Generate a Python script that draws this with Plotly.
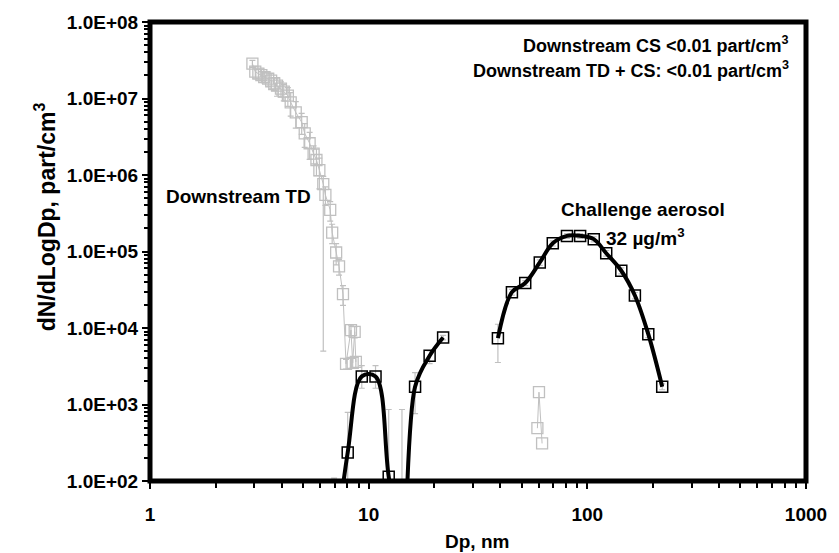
import plotly.graph_objects as go

# ---- data ----
# Downstream TD (grey)
td_x = [2.94, 3.03, 3.13, 3.23, 3.33, 3.47, 3.58, 3.70, 3.81, 3.97, 4.09, 4.27, 4.40, 4.64,
        4.94, 5.10, 5.37, 5.60, 5.77, 5.95, 6.20, 6.34, 6.67, 6.81, 7.10, 7.32, 7.63, 7.88,
        8.30, 8.45, 8.63, 8.74]
td_y = [2.85e7, 2.24e7, 2.11e7, 2.02e7, 1.9e7, 1.82e7, 1.71e7, 1.57e7, 1.47e7, 1.35e7, 1.23e7,
        1.09e7, 8.9e6, 6.6e6, 4.9e6, 3.5e6, 2.6e6, 1.9e6, 1.57e6, 1.16e6, 7.6e5, 5.5e5, 3.5e5,
        1.77e5, 9.7e4, 6.4e4, 2.77e4, 3.4e3, 9.4e3, 3.5e3, 8.9e3, 3.6e3]
td_err_plus = [3e6, 4e6, 3e6, 4e6, 3e6, 4e6, 4e6, 3e6, 4e6, 3e6, 3e6, 3e6, 3e6, 2.5e6, 1.5e6,
               1.2e6, 1.0e6, 5e5, 6e5, 5e5, 2e5, 1.5e5, 1e5, 5e4, 3e4, 1.5e4, 8e3, 500, 1500,
               500, 1500, 600]
td_err_minus = [3e6, 4e6, 3e6, 4e6, 3e6, 4e6, 4e6, 3e6, 4e6, 3e6, 3e6, 3e6, 3e6, 2.5e6, 1.5e6,
                1.2e6, 1.0e6, 5e5, 6e5, 5e5, 7.55e5, 1.5e5, 1e5, 5e4, 3e4, 1.5e4, 8e3, 500,
                1500, 500, 1500, 600]
td2_x = [59.1, 60.1, 62.1]
td2_y = [490, 1450, 310]

# Downstream CS (black, low)
cs_x = [6.95, 8.02, 9.3, 10.75, 12.35, 14.2, 16.3, 19.0, 21.9]
cs_y = [10, 236, 2330, 2330, 114, 10, 1710, 4330, 7500]
cs_err_plus = [99, 551, 900, 900, 746, 850, 900, 700, 500]
cs_err_minus = [5, 200, 700, 700, 60, 5, 950, 900, 500]

# Challenge aerosol (black)
ch_x = [39.0, 45.2, 52.0, 60.6, 69.5, 80.7, 92.7, 107, 122, 143, 165, 190, 220]
ch_y = [7350, 29400, 38700, 71900, 128000, 160000, 160000, 145000, 95000, 56000, 26600,
        8300, 1710]
ch_err_plus = [3850, 2500, 3000, 6000, 10000, 12000, 12000, 11000, 8000, 5000, 2500, 800, 150]
ch_err_minus = [3810, 2500, 3000, 6000, 10000, 12000, 12000, 11000, 8000, 5000, 2500, 800, 150]

x_ticks = [1, 10, 100, 1000]
x_ticklabels = ["1", "10", "100", "1000"]
y_ticks = [1e2, 1e3, 1e4, 1e5, 1e6, 1e7, 1e8]
y_ticklabels = ["1.0E+02", "1.0E+03", "1.0E+04", "1.0E+05", "1.0E+06", "1.0E+07", "1.0E+08"]

GREY = "#c0c0c0"
FONT = "Liberation Sans, Arial, sans-serif"

fig = go.Figure()

fig.add_trace(go.Scatter(
    x=td_x, y=td_y, mode="lines+markers",
    line=dict(color=GREY, width=1),
    marker=dict(symbol="square-open", size=11, color=GREY, line=dict(width=1.3, color=GREY)),
    error_y=dict(type="data", array=td_err_plus, arrayminus=td_err_minus,
                 color=GREY, thickness=1.2, width=3),
    showlegend=False))

fig.add_trace(go.Scatter(
    x=td2_x, y=td2_y, mode="lines+markers",
    line=dict(color=GREY, width=1),
    marker=dict(symbol="square-open", size=11, color=GREY, line=dict(width=1.3, color=GREY)),
    showlegend=False))

fig.add_trace(go.Scatter(
    x=cs_x, y=cs_y, mode="lines+markers",
    line=dict(color="black", width=4, shape="spline", smoothing=1),
    marker=dict(symbol="square-open", size=11, color="black", line=dict(width=1.5, color="black")),
    error_y=dict(type="data", array=cs_err_plus, arrayminus=cs_err_minus,
                 color=GREY, thickness=1.2, width=3),
    showlegend=False))

fig.add_trace(go.Scatter(
    x=ch_x, y=ch_y, mode="lines+markers",
    line=dict(color="black", width=4, shape="spline", smoothing=1),
    marker=dict(symbol="square-open", size=11, color="black", line=dict(width=1.5, color="black")),
    error_y=dict(type="data", array=ch_err_plus, arrayminus=ch_err_minus,
                 color=GREY, thickness=1.2, width=3),
    showlegend=False))

minor_x = [m * 10 ** k for k in range(0, 3) for m in range(2, 10)]
minor_y = [m * 10 ** k for k in range(2, 8) for m in range(2, 10)]

fig.update_xaxes(
    type="log", range=[0, 3], showgrid=False, zeroline=False,
    showline=False,
    ticks="outside", ticklen=7, tickwidth=1.5, tickcolor="black",
    tickmode="array", tickvals=x_ticks, ticktext=x_ticklabels,
    ticklabelstandoff=9,
    tickfont=dict(family=FONT, size=19, color="black", weight="bold"),
    minor=dict(tickmode="array", tickvals=minor_x, ticks="outside", ticklen=6,
               tickwidth=1.5, tickcolor="black", showgrid=False),
)
fig.update_yaxes(
    type="log", range=[2, 8], showgrid=False, zeroline=False,
    showline=False,
    ticks="outside", ticklen=7, tickwidth=1.5, tickcolor="black",
    tickmode="array", tickvals=y_ticks, ticktext=y_ticklabels,
    tickfont=dict(family=FONT, size=19, color="black", weight="bold"),
    minor=dict(tickmode="array", tickvals=minor_y, ticks="outside", ticklen=5,
               tickwidth=1.5, tickcolor="black", showgrid=False),
)

# plot-area frame (thick border, like the reference)
fig.add_shape(type="rect", xref="paper", yref="paper", x0=0, y0=0, x1=1, y1=1,
              line=dict(color="black", width=5), layer="above")

def ann(text, x, y, xanchor="center", size=19, angle=0):
    fig.add_annotation(text=text, x=x, y=y, xref="paper", yref="paper",
                       xanchor=xanchor, yanchor="middle", showarrow=False,
                       textangle=angle,
                       font=dict(family=FONT, size=size, color="black", weight="bold"))

L, R, T, B = 150, 816, 19, 481
W, H = R - L, B - T
px = lambda v: (v - L) / W
py = lambda v: (B - v) / H

ann("dN/dLogDp, part/cm<sup>3</sup>", px(43), py(215), size=23, angle=-90)
ann("Dp, nm", px(482), py(542))
ann("Downstream TD", px(240), py(195))
ann("Challenge aerosol", px(651), py(208))
ann("32 µg/m<sup>3</sup>", px(611), py(235), xanchor="left")
ann("Downstream CS <0.01 part/cm<sup>3</sup>", px(801), py(42), xanchor="right", size=18)
ann("Downstream TD + CS: <0.01 part/cm<sup>3</sup>", px(801), py(67), xanchor="right", size=18)

fig.update_layout(
    width=839, height=553,
    margin=dict(l=L, r=839 - R, t=T, b=553 - B),
    plot_bgcolor="white", paper_bgcolor="white",
    font=dict(family=FONT, color="black"),
)

fig.write_html("out.html")
